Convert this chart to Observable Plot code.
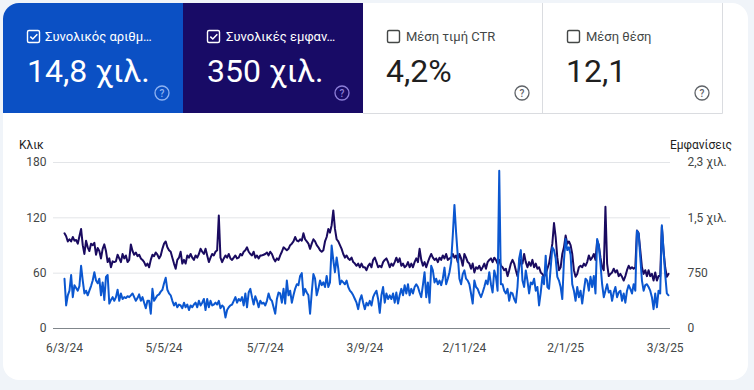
<!DOCTYPE html>
<html>
<head>
<meta charset="utf-8">
<script src="https://cdn.jsdelivr.net/npm/d3@7"></script>
<script src="https://cdn.jsdelivr.net/npm/@observablehq/plot@0.6"></script>
<style>
  html, body { margin: 0; padding: 0; background: #f0f4f9; width: 754px; height: 390px; overflow: hidden; font-family: Roboto, "Noto Sans", sans-serif; }
  #card { position: absolute; left: 3px; top: 3px; width: 745px; height: 377px; background: #fff; border-radius: 16px; }
  #hdr { position: absolute; left: 0; top: 0; }
  #chart { position: absolute; left: 0; top: 120px; }
</style>
</head>
<body>
<div id="card"></div>
<svg id="hdr" width="754" height="390" font-family="Roboto, 'Noto Sans', sans-serif">
  <defs>
    <clipPath id="cardclip"><rect x="3" y="3" width="745" height="377" rx="16" ry="16"/></clipPath>
  </defs>
  <g clip-path="url(#cardclip)">
    <rect x="3" y="3" width="180" height="110" fill="#0b50c4"/>
    <rect x="183" y="3" width="180" height="110" fill="#180b66"/>
    <line x1="363" x2="722.5" y1="113.5" y2="113.5" stroke="#dadce0"/>
    <line x1="542.5" x2="542.5" y1="3" y2="113.5" stroke="#dadce0"/>
    <line x1="722.5" x2="722.5" y1="3" y2="113.5" stroke="#dadce0"/>
  </g>
  <!-- tile 1 -->
  <rect x="27.5" y="30.5" width="12" height="12" rx="1.5" fill="none" stroke="#fff" stroke-width="1.4"/>
  <path d="M30.3,36.6 L32.8,39 L37.3,34.2" fill="none" stroke="#fff" stroke-width="1.5"/>
  <text id="t1l" x="45" y="41" font-size="13" fill="#fff"></text>
  <text id="t1v" x="27" y="82" font-size="32" fill="#fff"></text>
  <circle cx="162" cy="93" r="7" fill="none" stroke="#8fb3f2" stroke-width="1.3"/>
  <text x="162" y="96.6" font-size="10" font-weight="500" fill="#8fb3f2" text-anchor="middle">?</text>
  <!-- tile 2 -->
  <rect x="207.5" y="30.5" width="12" height="12" rx="1.5" fill="none" stroke="#fff" stroke-width="1.4"/>
  <path d="M210.3,36.6 L212.8,39 L217.3,34.2" fill="none" stroke="#fff" stroke-width="1.5"/>
  <text id="t2l" x="226" y="41" font-size="13" fill="#fff"></text>
  <text id="t2v" x="207" y="82" font-size="32" fill="#fff"></text>
  <circle cx="342" cy="93" r="7" fill="none" stroke="#8d7fd9" stroke-width="1.3"/>
  <text x="342" y="96.6" font-size="10" font-weight="500" fill="#8d7fd9" text-anchor="middle">?</text>
  <!-- tile 3 -->
  <rect x="387.5" y="30.5" width="12" height="12" rx="1.5" fill="none" stroke="#444746" stroke-width="1.4"/>
  <text id="t3l" x="406" y="41" font-size="13" fill="#444746"></text>
  <text id="t3v" x="386" y="82" font-size="32" fill="#1f1f1f"></text>
  <circle cx="522" cy="93" r="7" fill="none" stroke="#5f6368" stroke-width="1.3"/>
  <text x="522" y="96.6" font-size="10" font-weight="500" fill="#5f6368" text-anchor="middle">?</text>
  <!-- tile 4 -->
  <rect x="567.5" y="30.5" width="12" height="12" rx="1.5" fill="none" stroke="#444746" stroke-width="1.4"/>
  <text id="t4l" x="586" y="41" font-size="13" fill="#444746"></text>
  <text id="t4v" x="566" y="82" font-size="32" fill="#1f1f1f"></text>
  <circle cx="702" cy="93" r="7" fill="none" stroke="#5f6368" stroke-width="1.3"/>
  <text x="702" y="96.6" font-size="10" font-weight="500" fill="#5f6368" text-anchor="middle">?</text>
  <!-- axis titles -->
  <text id="yl" x="19" y="149" font-size="12" fill="#1f1f1f"></text>
  <text id="yr" x="732" y="149" font-size="12" fill="#1f1f1f" text-anchor="end"></text>
</svg>
<div id="chart"></div>
<script>
// ---- tile texts ----
const tileLabels = ["Συνολικός αριθμ…", "Συνολικές εμφαν…", "Μέση τιμή CTR", "Μέση θέση"];
const tileValues = ["14,8 χιλ.", "350 χιλ.", "4,2%", "12,1"];
const leftAxisTitle = "Κλικ";
const rightAxisTitle = "Εμφανίσεις";

// ---- series (daily, starting 6/3/24) ----
const startDate = "2024-03-06";
const clicks = [
  54,25,36,41,58,34,47,44,41,46,
  68,52,38,41,36,41,46,52,61,52,
  49,54,36,50,31,56,58,27,31,34,
  30,34,42,30,38,32,34,33,35,34,
  36,38,34,30,33,37,30,34,28,22,
  30,30,16,43,30,33,36,37,
  40,42,49,55,42,38,36,30,25,28,
  23,26,25,22,28,23,26,20,25,23,
  26,28,23,30,25,28,32,20,32,23,
  30,25,26,28,26,30,22,25,23,12,
  20,23,25,26,30,34,28,32,30,34,
  25,38,23,39,43,34,26,35,30,23,
  30,27,
  28,25,30,38,32,30,23,16,32,39,
  38,28,43,27,52,36,41,28,36,43,
  48,47,57,60,36,43,39,36,16,39,
  59,54,36,43,52,47,50,45,57,45,
  50,90,74,61,77,65,48,52,50,48,
  52,45,41,39,36,32,28,21,31,36,
  28,21,
  28,25,30,25,34,38,41,32,17,36,
  45,28,38,32,36,32,38,28,39,27,
  36,43,36,47,38,48,36,43,38,45,
  48,45,39,34,47,61,34,50,28,68,
  63,50,54,48,52,47,54,66,48,54,
  61,72,101,134,104,79,54,48,59,63,
  54,52,
  48,38,27,52,45,43,38,34,39,45,
  52,48,61,48,39,63,56,41,171,48,
  48,41,38,43,30,39,38,32,28,45,
  76,85,52,45,63,52,38,50,48,54,
  41,45,25,39,56,48,79,45,43,66,
  88,85,76,56,52,45,32,74,97,85,
  88,80,
  48,41,30,45,34,41,27,41,54,52,
  41,56,45,57,38,97,90,70,48,34,
  41,48,39,41,30,39,45,34,39,41,
  30,38,28,41,47,43,38,48,41,106,
  103,77,52,41,47,48,45,41,34,21,
  38,23,41,38,112,85,59,38,36
];
const impressions = [
  1290,1250,1180,1210,1180,1240,1190,1200,1150,1250,
  1350,1130,1010,1190,1100,1050,1150,1130,1160,1000,
  1090,1050,950,1080,1140,1050,900,950,830,910,
  900,910,1000,950,900,1010,950,990,900,930,
  1140,1050,1000,1030,980,1000,950,930,900,850,
  880,830,930,1000,980,1030,1000,950,
  990,1080,1150,1180,1100,1060,1040,960,880,810,
  930,960,1040,880,930,880,990,960,1010,960,
  930,990,960,1010,1080,1040,1010,1080,990,900,
  960,1010,990,1040,1060,1530,960,900,950,990,
  960,1010,950,930,960,990,950,960,1010,990,
  1040,1060,1100,1040,1010,990,1040,960,990,950,
  990,990,
  1000,1010,1030,990,1040,1010,950,910,950,930,
  990,1040,1100,1080,1060,1080,1130,1150,1180,1240,
  1190,1180,1210,1190,1290,1210,1180,1150,1080,1150,
  1210,1180,1130,1100,1060,1040,1060,1180,1240,1350,
  1300,1400,1600,1350,1210,1180,1130,1080,1010,960,
  990,950,930,960,900,880,850,880,830,880,
  830,830,
  790,850,880,830,930,960,900,830,850,830,
  900,930,950,900,830,880,850,900,960,900,
  950,850,880,830,850,900,830,880,830,900,
  950,900,1080,930,850,900,830,900,960,1010,
  960,930,950,900,960,930,990,950,1010,930,
  950,960,1010,960,990,900,1010,950,850,1010,
  960,900,
  880,810,880,760,830,810,850,790,830,880,
  810,900,930,950,900,960,930,880,930,850,
  830,790,810,710,790,880,930,880,790,710,
  830,930,880,1010,900,830,900,850,930,830,
  880,810,830,760,740,700,740,810,880,1010,
  1150,1430,1240,960,790,830,1010,1100,1260,1150,
  1180,1130,
  1010,790,700,740,830,850,830,880,850,900,
  990,930,960,1010,930,1190,1130,960,830,790,
  1650,880,710,740,760,810,760,790,710,740,
  700,650,710,790,850,810,830,810,830,1330,
  1290,1060,830,740,790,710,790,710,740,650,
  760,650,710,710,1380,1060,830,700,740
];

// ---- axis ticks ----
const xTickLabels = ["6/3/24", "5/5/24", "5/7/24", "3/9/24", "2/11/24", "2/1/25", "3/3/25"];
const yTicks = [0, 60, 120, 180];
const rightTickLabels = ["0", "750", "1,5 χιλ.", "2,3 χιλ."];
const clickAxisMax = 180;
const impAxisMax = 2250;

// header texts
document.getElementById("t1l").textContent = tileLabels[0];
document.getElementById("t2l").textContent = tileLabels[1];
document.getElementById("t3l").textContent = tileLabels[2];
document.getElementById("t4l").textContent = tileLabels[3];
document.getElementById("t1v").textContent = tileValues[0];
document.getElementById("t2v").textContent = tileValues[1];
document.getElementById("t3v").textContent = tileValues[2];
document.getElementById("t4v").textContent = tileValues[3];
document.getElementById("yl").textContent = leftAxisTitle;
document.getElementById("yr").textContent = rightAxisTitle;

const parseDMY = s => { const [d, m, y] = s.split("/").map(Number); return new Date(Date.UTC(2000 + y, m - 1, d)); };
const xTicks = xTickLabels.map(parseDMY);
const start = new Date(startDate + "T00:00:00Z");
const n = Math.min(clicks.length, impressions.length);
const data = d3.range(n).map(i => ({date: d3.utcDay.offset(start, i), clicks: clicks[i], imp: impressions[i]}));

const chart = Plot.plot({
  width: 754,
  height: 250,
  marginLeft: 53,
  marginRight: 84,
  marginTop: 42,
  marginBottom: 42,
  style: {fontFamily: "Roboto, 'Noto Sans', sans-serif", fontSize: "12px", color: "#444746", background: "transparent", overflow: "visible"},
  x: {type: "utc", domain: [new Date(Date.UTC(2024, 1, 28, 9)), new Date(Date.UTC(2025, 2, 6, 5))]},
  y: {domain: [0, clickAxisMax]},
  marks: [
    Plot.gridY(yTicks, {stroke: "#e3e5e8", strokeOpacity: 1, strokeWidth: 1}),
    Plot.ruleY([0], {stroke: "#80868b", strokeWidth: 1.2}),
    Plot.axisY(yTicks, {anchor: "left", tickSize: 0, tickPadding: 7, label: null, fill: "#444746", tickFormat: d => String(d)}),
    Plot.axisY(yTicks, {anchor: "right", tickSize: 0, tickPadding: 17, label: null, fill: "#444746", tickFormat: d => rightTickLabels[yTicks.indexOf(d)]}),
    Plot.axisX(xTicks, {tickSize: 0, tickPadding: 15, label: null, fill: "#444746", tickFormat: d => xTickLabels[xTicks.findIndex(t => +t === +d)]}),
    Plot.lineY(data, {x: "date", y: d => d.imp * clickAxisMax / impAxisMax, stroke: "#1a0b60", strokeWidth: 2}),
    Plot.lineY(data, {x: "date", y: "clicks", stroke: "#0b57d0", strokeWidth: 2})
  ]
});
document.getElementById("chart").appendChild(chart);
</script>
</body>
</html>
